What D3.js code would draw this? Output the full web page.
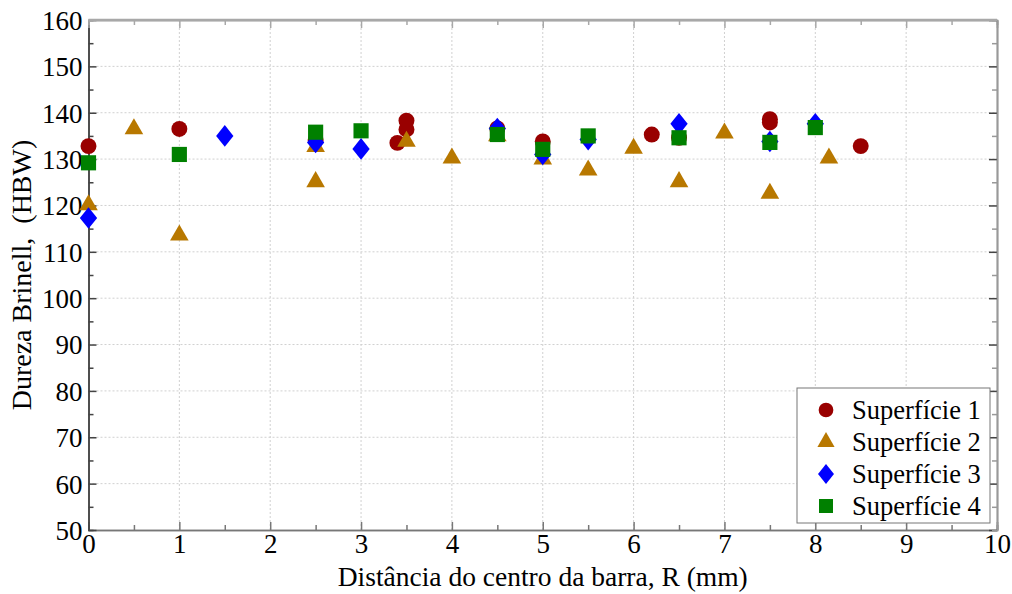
<!DOCTYPE html>
<html>
<head>
<meta charset="utf-8">
<script src="https://cdn.jsdelivr.net/npm/d3@7"></script>
<style>
  body { margin: 0; background: #fff; }
  text { font-family: "Liberation Serif", "Times New Roman", serif; fill: #000; }
</style>
</head>
<body>
<div id="chart"></div>
<script>
// Data
// ============================================================================
const seriesNames = ["Superfície 1", "Superfície 2", "Superfície 3", "Superfície 4"];

const sup1_x = [0, 1, 2.5, 3.4, 3.5, 3.5, 4.5, 5, 6.2, 6.5, 7.5, 7.5, 8.5];
const sup1_y = [132.8, 136.5, 134.1, 133.5, 138.3, 136.4, 136.6, 133.8, 135.3, 134.6, 138.6, 137.9, 132.8];

const sup2_x = [0, 0.5, 1, 2.5, 2.5, 3.5, 4, 4.5, 5, 5.5, 6, 6.5, 7, 7.5, 8.15];
const sup2_y = [120.1, 136.5, 113.6, 132.7, 125.1, 133.8, 130.2, 135.0, 130.0, 127.6, 132.3, 125.1, 135.6, 122.6, 130.2];

const sup3_x = [0, 1.5, 2.5, 3, 4.5, 5, 5.5, 6.5, 7.5, 8];
const sup3_y = [117.3, 135.0, 133.6, 132.2, 136.6, 131.0, 134.2, 137.6, 133.8, 137.6];

const sup4_x = [0, 1, 2.5, 3, 4.5, 5, 5.5, 6.5, 7.5, 8];
const sup4_y = [129.2, 131.0, 135.8, 136.1, 135.3, 132.1, 135.0, 134.6, 133.6, 136.8];

const xTicks = [0, 1, 2, 3, 4, 5, 6, 7, 8, 9, 10];
const yTicks = [50, 60, 70, 80, 90, 100, 110, 120, 130, 140, 150, 160];

// Layout
// ============================================================================
const W = 1012, H = 594,
    margin = {top: 20, right: 15, bottom: 64, left: 88.5},
    width = W - margin.left - margin.right,
    height = H - margin.top - margin.bottom;

const serif = '"Liberation Serif", "Times New Roman", serif';
const colors = ["#990000", "#b87800", "#0000ff", "#008000"];

// wider diamond than d3's built-in one
const diamond = {
    draw(context, size) {
        const h = Math.sqrt(size * 0.78), w = h * 0.8;
        context.moveTo(0, -h);
        context.lineTo(w, 0);
        context.lineTo(0, h);
        context.lineTo(-w, 0);
        context.closePath();
    }
};
const symbols = [d3.symbolCircle, d3.symbolTriangle, diamond, d3.symbolSquare];
const sizes = [200, 150, 150, 230];

const series = [
    sup1_x.map((x, i) => ({x: x, y: sup1_y[i]})),
    sup2_x.map((x, i) => ({x: x, y: sup2_y[i]})),
    sup3_x.map((x, i) => ({x: x, y: sup3_y[i]})),
    sup4_x.map((x, i) => ({x: x, y: sup4_y[i]}))
];

// Plot
// ============================================================================
const svg = d3.select("#chart")
    .append("svg")
        .attr("width", W)
        .attr("height", H)
    .append("g")
        .attr("transform", "translate(" + margin.left + "," + margin.top + ")");

const xScale = d3.scaleLinear().domain([0, 10]).range([0, width]);
const yScale = d3.scaleLinear().domain([50, 160]).range([height, 0]);

// Grid
svg.append("g")
    .selectAll("line")
    .data(xTicks.slice(1, -1))
    .join("line")
        .attr("x1", d => xScale(d)).attr("x2", d => xScale(d))
        .attr("y1", 0).attr("y2", height)
        .attr("stroke", "#d0d0d0")
        .attr("stroke-dasharray", "2,2");

svg.append("g")
    .selectAll("line")
    .data(yTicks.slice(1, -1))
    .join("line")
        .attr("x1", 0).attr("x2", width)
        .attr("y1", d => yScale(d)).attr("y2", d => yScale(d))
        .attr("stroke", "#d0d0d0")
        .attr("stroke-dasharray", "2,2");

// Axes (ticks inward, minor ticks at midpoints)
const xMinor = d3.range(0.5, 10, 1);
const yMinor = d3.range(55, 160, 10);

function styleAxis(g, color) {
    g.select(".domain").attr("stroke", color).attr("stroke-width", 1.5);
    g.selectAll(".tick line").attr("stroke", color).attr("stroke-width", 1.5);
}

const xAxis = svg.append("g")
    .attr("transform", "translate(0," + height + ")")
    .call(d3.axisBottom(xScale).tickValues(xTicks).tickSizeInner(-8).tickSizeOuter(0).tickPadding(4).tickFormat(d3.format("d")));
xAxis.attr("font-family", serif).attr("font-size", 27);
xAxis.selectAll(".tick text").attr("dy", "0.72em");
styleAxis(xAxis, "#777");

svg.append("g")
    .attr("transform", "translate(0," + height + ")")
    .call(d3.axisBottom(xScale).tickValues(xMinor).tickSize(-5).tickFormat(""))
    .call(g => styleAxis(g, "#777"));

const yAxis = svg.append("g")
    .call(d3.axisLeft(yScale).tickValues(yTicks).tickSizeInner(-8).tickSizeOuter(0).tickPadding(6).tickFormat(d3.format("d")));
yAxis.attr("font-family", serif).attr("font-size", 27);
yAxis.selectAll(".tick text").attr("dy", "0.35em");
styleAxis(yAxis, "#444");

svg.append("g")
    .call(d3.axisLeft(yScale).tickValues(yMinor).tickSize(-5).tickFormat(""))
    .call(g => styleAxis(g, "#444"));

// Top and right frame
svg.append("g")
    .call(d3.axisTop(xScale).tickValues(xTicks).tickSize(-8).tickSizeOuter(0).tickFormat(""))
    .call(g => styleAxis(g, "#a8a8a8"));
svg.append("g")
    .call(d3.axisTop(xScale).tickValues(xMinor).tickSize(-5).tickFormat(""))
    .call(g => styleAxis(g, "#a8a8a8"));

svg.append("g")
    .attr("transform", "translate(" + width + ",0)")
    .call(d3.axisRight(yScale).tickValues(yTicks).tickSize(-8).tickSizeOuter(0).tickFormat(""))
    .call(g => styleAxis(g, "#444"));
svg.append("g")
    .attr("transform", "translate(" + width + ",0)")
    .call(d3.axisRight(yScale).tickValues(yMinor).tickSize(-5).tickFormat(""))
    .call(g => styleAxis(g, "#999"));

svg.append("line")
    .attr("x1", 0).attr("x2", width)
    .attr("y1", 0).attr("y2", 0)
    .attr("stroke", "#a8a8a8")
    .attr("stroke-width", 2.5);

// Points
series.forEach((data, k) => {
    svg.append("g")
        .selectAll("path")
        .data(data)
        .join("path")
            .attr("transform", d => "translate(" + xScale(d.x) + "," + yScale(d.y) + ")")
            .attr("d", d3.symbol().type(symbols[k]).size(sizes[k]))
            .attr("fill", colors[k]);
});

// Legend
const legend = svg.append("g")
    .attr("transform", "translate(" + (797 - margin.left) + "," + (388 - margin.top) + ")");

legend.append("rect")
    .attr("width", 193)
    .attr("height", 135)
    .attr("fill", "#fff")
    .attr("stroke", "#777")
    .attr("stroke-width", 1);

seriesNames.forEach((name, k) => {
    const row = legend.append("g")
        .attr("transform", "translate(0," + (20 + k * 32) + ")");
    row.append("path")
        .attr("transform", "translate(29,2)")
        .attr("d", d3.symbol().type(symbols[k]).size(sizes[k] * 0.85))
        .attr("fill", colors[k]);
    row.append("text")
        .attr("x", 55)
        .attr("y", 2)
        .attr("dy", "0.35em")
        .attr("font-size", 26.5)
        .text(name);
});

// Axis labels
svg.append("text")
    .attr("x", width / 2)
    .attr("y", height + 56)
    .attr("text-anchor", "middle")
    .attr("font-size", 27.5)
    .text("Distância do centro da barra, R (mm)");

svg.append("text")
    .attr("transform", "translate(" + (31 - margin.left) + "," + (height / 2) + ") rotate(-90)")
    .attr("text-anchor", "middle")
    .attr("font-size", 28)
    .style("white-space", "pre")
    .text("Dureza Brinell,  (HBW)");
</script>
</body>
</html>
